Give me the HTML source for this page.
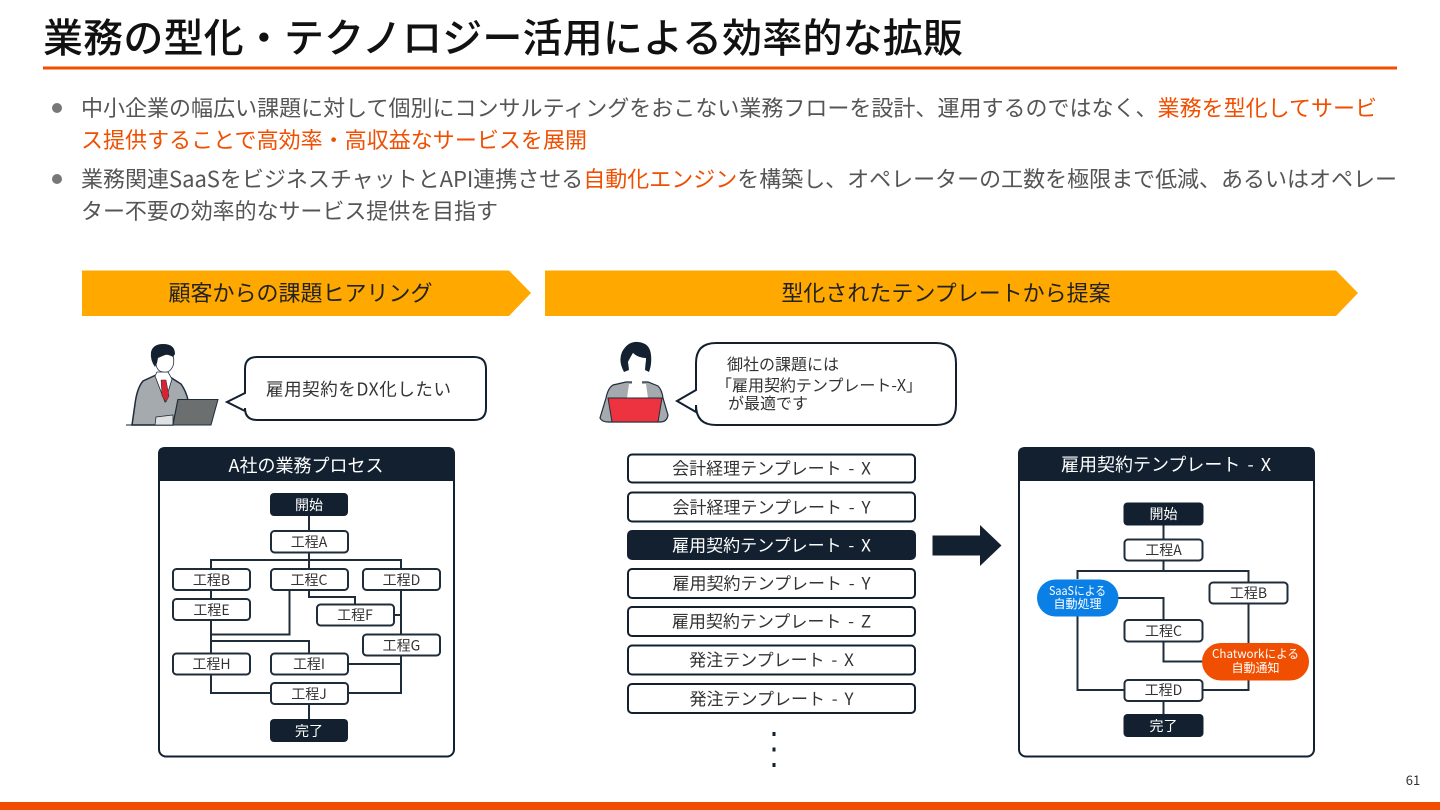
<!DOCTYPE html>
<html lang="ja"><head><meta charset="utf-8"><title>業務の型化・テクノロジー活用による効率的な拡販</title>
<style>
html,body{margin:0;padding:0;background:#fff}
svg{display:block}
text{font-family:"Noto Sans CJK JP","Liberation Sans",sans-serif}
.b{font-size:22px;fill:#555}
.o{fill:#f04e00}
.n{fill:#fff;stroke:#1f2c3a;stroke-width:2}
.d{fill:#12202f}
.t{font-size:14px;fill:#333;text-anchor:middle}
.w{font-size:14px;fill:#fff;text-anchor:middle}
.l{fill:none;stroke:#1f2c3a;stroke-width:2}
.i{fill:#fff;stroke:#12202f;stroke-width:2}
.it{font-size:17px;fill:#333;text-anchor:middle;word-spacing:3px}
.p{font-size:12px;fill:#fff;text-anchor:middle}
.h{font-size:18px;fill:#fff;text-anchor:middle}
.c{font-size:22px;fill:#222;text-anchor:middle}
.s{font-size:16px;fill:#333}
</style></head><body>
<svg width="1440" height="810" viewBox="0 0 1440 810" xmlns="http://www.w3.org/2000/svg">
<rect width="1440" height="810" fill="#fff"/>
<text x="43" y="52" font-size="40" font-weight="500" fill="#111" textLength="920">業務の型化・テクノロジー活用による効率的な拡販</text>
<rect x="43" y="66.500" width="1354" height="3" fill="#f04e00"/>
<circle cx="57" cy="108" r="5" fill="#777"/>
<circle cx="57" cy="179" r="5" fill="#777"/>
<text class="b" x="81" y="116" textLength="1296">中小企業の幅広い課題に対して個別にコンサルティングをおこない業務フローを設計、運用するのではなく、<tspan class="o">業務を型化してサービ</tspan></text>
<text class="b o" x="81" y="148" textLength="506">ス提供することで高効率・高収益なサービスを展開</text>
<text class="b" x="81" y="187" textLength="1316">業務関連SaaSをビジネスチャットとAPI連携させる<tspan class="o">自動化エンジン</tspan>を構築し、オペレーターの工数を極限まで低減、あるいはオペレー</text>
<text class="b" x="81" y="219" textLength="417">ター不要の効率的なサービス提供を目指す</text>

<polygon points="82,270.500 509,270.500 531,293 509,316 82,316" fill="#ffa800"/>
<polygon points="545,270.500 1336,270.500 1358,293 1336,316 545,316" fill="#ffa800"/>
<text class="c" x="300.500" y="301">顧客からの課題ヒアリング</text>
<text class="c" x="946" y="301">型化されたテンプレートから提案</text>

<!-- man -->
<path d="M132,425 L135,404 Q137,388 143,381 L156,375 L170,377 L181,384 Q186,391 188,400 L178,400 L173,425 Z" fill="#a5aaae" stroke="#1f2c3a" stroke-width="1.500"/>
<path d="M155,376 L165,402 L172,379 L168,372 L157,372 Z" fill="#fff" stroke="#1f2c3a" stroke-width=".8"/>
<path d="M161,380 L166,380 L169,396 L166,402 L162,396 Z" fill="#d8242f" stroke="#1f2c3a" stroke-width=".5"/>
<path d="M155,356 L172,352 Q175,360 173,366 Q170,373 164,372 Q157,372 156,364 Z" fill="#fff" stroke="#1f2c3a" stroke-width=".8"/>
<path d="M155,367 Q150,360 151,352 Q153,344 163,344 Q175,344 175,354 L173,357 Q168,354 165,355 Q160,357 158,358 L157,363 Z" fill="#12202f"/>
<rect x="126" y="424.500" width="47" height="1" fill="#12202f"/>
<path d="M155,425 L156,417 L173,415 L173,425 Z" fill="#dfe1e3" stroke="#1f2c3a" stroke-width=".8"/>
<polygon points="178,399.500 218,399.500 211,425 173,425" fill="#6b6f70" stroke="#1f2c3a"/>

<path d="M257,357 H474 Q486,357 486,369 V408 Q486,420 474,420 H257 Q245,420 245,408 V411 L227,402 L245,393 V369 Q245,357 257,357 Z" fill="#fff" stroke="#12202f" stroke-width="2"/>
<text x="358.500" y="395.500" font-size="17.500" fill="#333" text-anchor="middle" textLength="185">雇用契約をDX化したい</text>

<!-- woman -->
<path d="M626,382 L648,382 L658,386 Q662,390 663,398 L668,415 Q667,422 660,422 L608,422 Q602,422 600,418 L606,398 Q608,388 613,385 Z" fill="#a5aaae" stroke="#1f2c3a" stroke-width="1.200"/>
<path d="M629,384 L646,384 L648,398 L627,398 Z" fill="#fff"/>
<rect x="632" y="368" width="10" height="17" fill="#fff"/>
<path d="M624,372 Q618,361 622,352 Q628,341 638,342 Q650,343 651,355 Q652,364 649,372 L645,370 L646,358 Q638,358 633,353 Q630,358 628,362 L629,370 Z" fill="#12202f"/>
<path d="M628,362 Q630,358 633,353 Q638,358 646,358 Q646,370 637,371 Q630,370 628,362 Z" fill="#fff"/>
<polygon points="608,398 662,398 658,422 612,422" fill="#ee3340" stroke="#1f2c3a"/>

<path d="M716,343 H936 Q956,343 956,363 V405 Q956,425 936,425 H716 Q696,425 696,405 V412 L677,401 L696,390 V363 Q696,343 716,343 Z" fill="#fff" stroke="#12202f" stroke-width="2"/>
<text class="s" x="727" y="370">御社の課題には</text>
<text class="s" x="716" y="391" textLength="206">「雇用契約テンプレート-X」</text>
<text class="s" x="728" y="409">が最適です</text>

<!-- left panel -->
<rect x="159" y="448" width="295" height="308.500" rx="7" fill="#fff" stroke="#12202f" stroke-width="2"/>
<path d="M158,481 V454 Q158,447 165,447 H448 Q455,447 455,454 V481 Z" fill="#12202f"/>
<text class="h" x="306" y="472">A社の業務プロセス</text>
<path class="l" d="M309,516 V568 M211,568 V560 H401 V568 M211,590 V653 M211,634.500 H289.500 V590 M211,641 H309 V653 M309,590 V597 H355 V604 M401,590 V693 H348 M394,615 H401 M348,664 H401 M211,675 V693 H270 M309,704 V719"/>
<rect class="d" x="270" y="493" width="78" height="23" rx="4"/>
<rect class="n" x="271" y="531" width="77" height="21.500" rx="3.500"/>
<rect class="n" x="173" y="569" width="77" height="21" rx="3.500"/>
<rect class="n" x="271" y="569" width="77" height="21" rx="3.500"/>
<rect class="n" x="363" y="569" width="77" height="21" rx="3.500"/>
<rect class="n" x="173" y="599" width="77" height="21" rx="3.500"/>
<rect class="n" x="317" y="604.500" width="77" height="21" rx="3.500"/>
<rect class="n" x="363" y="634.500" width="77" height="21" rx="3.500"/>
<rect class="n" x="173" y="653.500" width="77" height="21" rx="3.500"/>
<rect class="n" x="271" y="653.500" width="77" height="21" rx="3.500"/>
<rect class="n" x="271" y="683" width="77" height="21" rx="3.500"/>
<rect class="d" x="270" y="719" width="78" height="23" rx="4"/>
<text class="w" x="309" y="510">開始</text>
<text class="t" x="309" y="547">工程A</text>
<text class="t" x="211.500" y="585">工程B</text>
<text class="t" x="309" y="585">工程C</text>
<text class="t" x="401.500" y="585">工程D</text>
<text class="t" x="211.500" y="615">工程E</text>
<text class="t" x="355" y="620">工程F</text>
<text class="t" x="401.500" y="650.500">工程G</text>
<text class="t" x="211.500" y="669">工程H</text>
<text class="t" x="309" y="669">工程I</text>
<text class="t" x="309" y="699">工程J</text>
<text class="w" x="309" y="736">完了</text>

<!-- list -->
<rect class="i" x="628" y="454.500" width="287" height="28" rx="4"/>
<rect class="i" x="628" y="492.500" width="287" height="29" rx="4"/>
<rect x="627" y="530" width="289" height="30" rx="5" fill="#12202f"/>
<rect class="i" x="628" y="569" width="287" height="29" rx="4"/>
<rect class="i" x="628" y="607" width="287" height="29" rx="4"/>
<rect class="i" x="628" y="645.500" width="287" height="29" rx="4"/>
<rect class="i" x="628" y="684" width="287" height="29" rx="4"/>
<text class="it" x="771.500" y="474.500">会計経理テンプレート - X</text>
<text class="it" x="771.500" y="513.500">会計経理テンプレート - Y</text>
<text class="it" x="771.500" y="551.500" style="fill:#fff">雇用契約テンプレート - X</text>
<text class="it" x="771.500" y="589.500">雇用契約テンプレート - Y</text>
<text class="it" x="771.500" y="627.500">雇用契約テンプレート - Z</text>
<text class="it" x="771.500" y="666">発注テンプレート - X</text>
<text class="it" x="771.500" y="705">発注テンプレート - Y</text>
<rect x="772.500" y="732" width="3" height="4" fill="#12202f"/>
<rect x="772.500" y="747.500" width="3" height="4" fill="#12202f"/>
<rect x="772.500" y="763" width="3" height="4" fill="#12202f"/>
<polygon points="932.500,535.500 980,535.500 980,525 1001.500,545.500 980,566 980,555.500 932.500,555.500" fill="#12202f"/>

<!-- right panel -->
<rect x="1019" y="448" width="295" height="308.500" rx="7" fill="#fff" stroke="#12202f" stroke-width="2"/>
<path d="M1018,481 V454 Q1018,447 1025,447 H1308 Q1315,447 1315,454 V481 Z" fill="#12202f"/>
<text class="h" x="1166" y="471" style="word-spacing:3px">雇用契約テンプレート - X</text>
<path class="l" d="M1163.500,525 V571 M1077.500,579 V571 H1248.500 V690 H1203 M1077.500,616 V690 H1124 M1118,598 H1163.500 V620 M1163.500,641 V661.500 H1203 M1163.500,701 V714"/>
<rect class="d" x="1123.500" y="502.500" width="80" height="23" rx="4"/>
<rect class="n" x="1124.500" y="539.500" width="78" height="21" rx="3.500"/>
<rect class="n" x="1209.500" y="582.500" width="78" height="21" rx="3.500"/>
<rect class="n" x="1124.500" y="620" width="78" height="21.500" rx="3.500"/>
<rect class="n" x="1124.500" y="680" width="78" height="21" rx="3.500"/>
<rect class="d" x="1123.500" y="714" width="80" height="23" rx="4"/>
<rect x="1037" y="579.500" width="81.500" height="37" rx="18.500" fill="#0a7fe6"/>
<rect x="1202" y="643" width="107" height="37.500" rx="18.700" fill="#f04e00"/>
<text class="w" x="1163.500" y="519">開始</text>
<text class="t" x="1163.500" y="555">工程A</text>
<text class="t" x="1248.500" y="598">工程B</text>
<text class="t" x="1163.500" y="636">工程C</text>
<text class="t" x="1163.500" y="695">工程D</text>
<text class="w" x="1163.500" y="731">完了</text>
<text class="p" x="1077.500" y="595" textLength="57" lengthAdjust="spacingAndGlyphs">SaaSによる</text>
<text class="p" x="1077.500" y="608">自動処理</text>
<text class="p" x="1255.500" y="658" textLength="87" lengthAdjust="spacingAndGlyphs">Chatworkによる</text>
<text class="p" x="1255.500" y="672">自動通知</text>

<text x="1413" y="785" font-size="13" fill="#333" text-anchor="middle">61</text>
<rect y="802" width="1440" height="8" fill="#f04e00"/>
</svg>
</body></html>
